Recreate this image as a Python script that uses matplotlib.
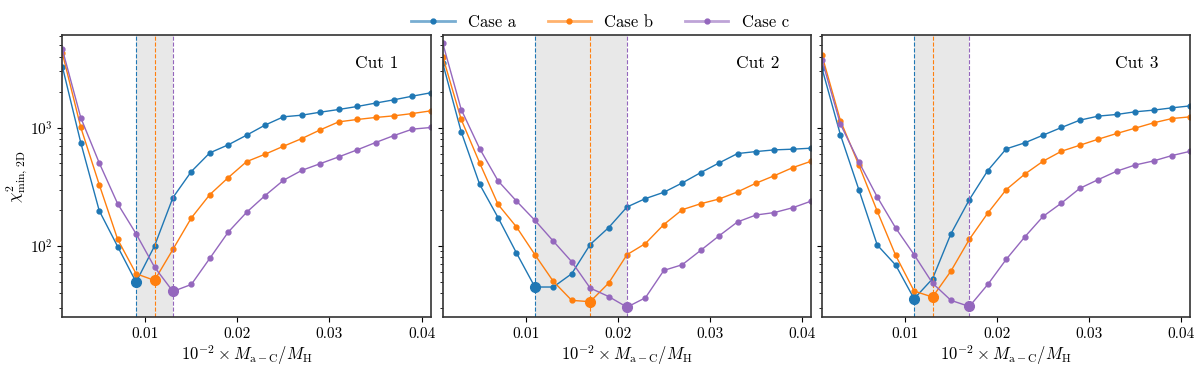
import numpy as np
import matplotlib
matplotlib.use("Agg")
import matplotlib.pyplot as plt
from matplotlib.lines import Line2D

plt.rcParams['font.family'] = 'serif'
plt.rcParams['font.serif'] = ['cmr10', 'DejaVu Serif']
plt.rcParams['mathtext.fontset'] = 'cm'
plt.rcParams['axes.formatter.use_mathtext'] = True
plt.rcParams['font.size'] = 11

mass = [0.001, 0.003, 0.005, 0.007, 0.009, 0.011, 0.013, 0.015, 0.017, 0.019, 0.021,
        0.023, 0.025, 0.027, 0.029, 0.031, 0.033, 0.035, 0.037, 0.039, 0.041]

cut1_a = [3290, 746, 199, 99, 49.5, 100, 257, 427, 614, 718, 867,
          1055, 1240, 1280, 1357, 1430, 1516, 1620, 1727, 1855, 1980]
cut1_b = [4270, 1007, 331, 114, 58.3, 51.2, 93.7, 173, 272, 379, 518,
          598, 699, 812, 962, 1124, 1177, 1224, 1264, 1322, 1393]
cut1_c = [4610, 1216, 505, 228, 127, 66.4, 41.3, 47.3, 78.6, 131, 193,
          267, 360, 437, 498, 568, 651, 751, 861, 975, 1007]

cut2_a = [3510, 925, 333, 174, 87.3, 45, 45, 58.3, 103, 143, 214,
          252, 285, 342, 418, 505, 606, 630, 651, 660, 673]
cut2_b = [4000, 1177, 505, 225, 145, 84.5, 50.2, 34.7, 33.8, 48.5, 84.5,
          105, 152, 203, 228, 250, 287, 340, 394, 461, 522]
cut2_c = [5190, 1429, 668, 356, 240, 165, 110, 73.6, 44.1, 37.4, 30.4,
          36.5, 62.2, 69.5, 91.9, 122, 160, 183, 192, 211, 240]

cut3_a = [3186, 873, 300, 102, 69, 35.8, 52.8, 127, 247, 435, 664,
          746, 867, 1007, 1162, 1257, 1298, 1367, 1412, 1477, 1535]
cut3_b = [4100, 1153, 485, 197, 83.3, 41.6, 37, 61.4, 114, 190, 300,
          405, 522, 634, 713, 802, 896, 994, 1103, 1199, 1240]
cut3_c = [3740, 1075, 515, 260, 142, 84.5, 48.5, 34.7, 30.8, 47.3, 77.1,
          119, 178, 231, 308, 365, 430, 485, 525, 583, 634]

cuts = ["Cut 1", "Cut 2", "Cut 3"]
cases = ["Case a", "Case b", "Case c"]
colors = ["tab:blue", "tab:orange", "tab:purple"]
data = [[cut1_a, cut1_b, cut1_c], [cut2_a, cut2_b, cut2_c], [cut3_a, cut3_b, cut3_c]]

fig = plt.figure(figsize=(12, 3.65), dpi=100)
lefts = [0.052, 0.369, 0.685]
width = 0.307
axes = []
for i in range(3):
    ax = fig.add_axes([lefts[i], 0.131, width, 0.773], sharey=axes[0] if axes else None)
    axes.append(ax)
    mins = []
    for j in range(3):
        y = np.array(data[i][j])
        ax.plot(mass, y, '-o', color=colors[j], lw=1.0, ms=3.5)
        k = np.argmin(y)
        mins.append(mass[k])
        ax.plot(mass[k], y[k], 'o', color=colors[j], ms=7)
        ax.axvline(mass[k], color=colors[j], ls='--', lw=0.8)
    ax.axvspan(min(mins), max(mins), color='lightgray', alpha=0.5, lw=0)
    ax.set_yscale('log')
    ax.set_xlim(0.001, 0.041)
    ax.set_ylim(25, 6100)
    ax.set_xticks([0.01, 0.02, 0.03, 0.04])
    ax.set_xticklabels(['0.01', '0.02', '0.03', '0.04'])
    ax.set_xlabel(r'$10^{-2}\times M_{\rm a-C}/M_{\rm H}$', fontsize=12, labelpad=2)
    ax.text(0.913, 0.90, cuts[i], transform=ax.transAxes, ha='right', va='center', fontsize=12.5)
    for s in ax.spines.values():
        s.set_linewidth(1.2)
        s.set_color('#333333')
    if i > 0:
        plt.setp(ax.get_yticklabels(), visible=False)

axes[0].set_ylabel(r'$\chi^2_{\rm min,\,2D}$', fontsize=12)
axes[0].yaxis.set_label_coords(-0.09, 0.5)

handles = []
for c in colors:
    line = Line2D([], [], color=c, lw=2, alpha=0.6)
    dot = Line2D([], [], color=c, marker='o', ms=3.5, ls='none')
    handles.append((line, dot))
fig.legend(handles, cases, loc='upper center', bbox_to_anchor=(0.5, 1.0), ncol=3,
           frameon=False, fontsize=12, handlelength=2.6, columnspacing=1.9)

fig.savefig('out.png', dpi=100)
